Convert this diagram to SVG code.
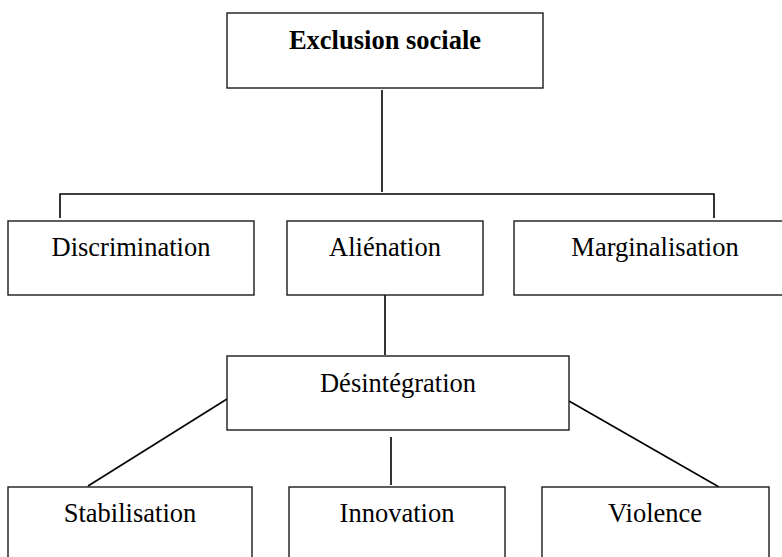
<svg xmlns="http://www.w3.org/2000/svg" width="782" height="557" viewBox="0 0 782 557">
<style>
.box{fill:#fff;stroke:#1a1a1a;stroke-width:1.4}
.lbl{font-family:"Liberation Serif","Times New Roman",serif;font-size:26.5px;fill:#000;text-anchor:middle}
.b{font-weight:bold}
.con{stroke:#000;stroke-width:1.6;fill:none}
</style>
<rect width="782" height="557" fill="#fff"/>
<g id="connectors">
<line class="con" x1="382" y1="90" x2="382" y2="192"/>
<polyline class="con" points="60,218 60,194 714,194 714,218"/>
<line class="con" x1="385" y1="295" x2="385" y2="355"/>
<line class="con" x1="227" y1="399" x2="88" y2="486"/>
<line class="con" x1="391" y1="437" x2="391" y2="485"/>
<line class="con" x1="569" y1="401" x2="719" y2="487"/>
</g>
<g id="exclusion"><rect class="box" x="227" y="13" width="316" height="75"/><text class="lbl b" x="385" y="49">Exclusion sociale</text></g>
<g id="discrimination"><rect class="box" x="8" y="221" width="246" height="74"/><text class="lbl" x="131" y="256">Discrimination</text></g>
<g id="alienation"><rect class="box" x="287" y="221" width="196" height="74"/><text class="lbl" x="385" y="256">Aliénation</text></g>
<g id="marginalisation"><rect class="box" x="514" y="221" width="280" height="74"/><text class="lbl" x="655" y="256">Marginalisation</text></g>
<g id="desintegration"><rect class="box" x="227" y="356" width="342" height="74"/><text class="lbl" x="398" y="392">Désintégration</text></g>
<g id="stabilisation"><rect class="box" x="8" y="487" width="244" height="80"/><text class="lbl" x="130" y="522">Stabilisation</text></g>
<g id="innovation"><rect class="box" x="289" y="487" width="216" height="80"/><text class="lbl" x="397" y="522">Innovation</text></g>
<g id="violence"><rect class="box" x="542" y="487" width="227" height="80"/><text class="lbl" x="655" y="522">Violence</text></g>
</svg>
